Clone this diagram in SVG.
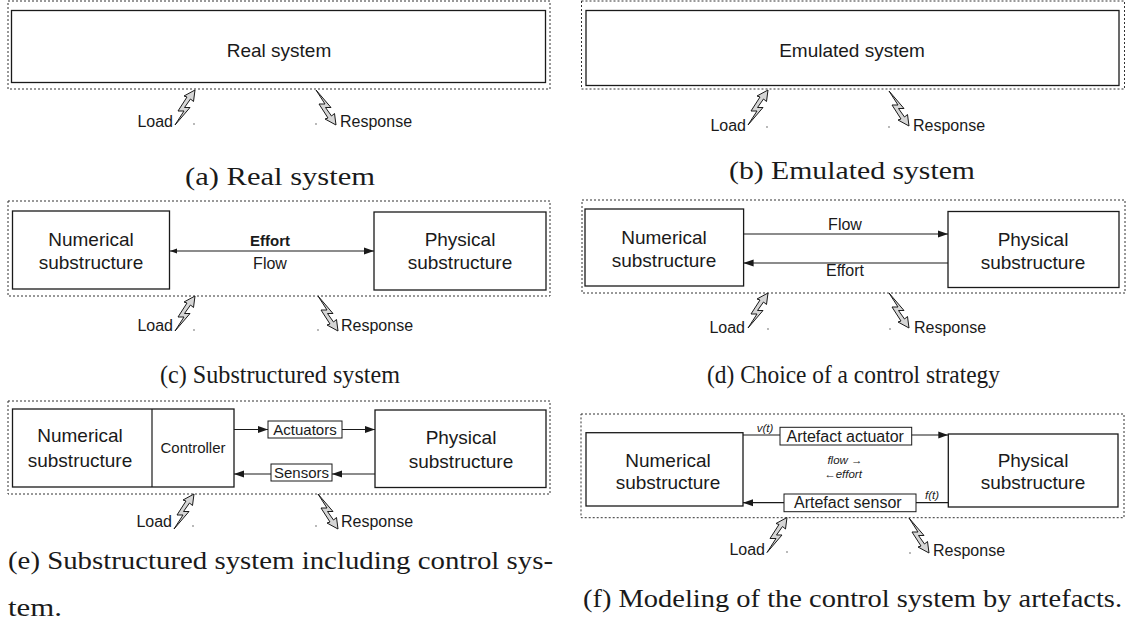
<svg xmlns="http://www.w3.org/2000/svg" xmlns:xlink="http://www.w3.org/1999/xlink" width="1126" height="633" viewBox="0 0 1126 633">
<style>
.frame{fill:none;stroke:#333;stroke-width:1;stroke-dasharray:2 2}
.box{fill:#fff;stroke:#1a1a1a;stroke-width:1.3}
.sbox{fill:#fff;stroke:#1a1a1a;stroke-width:1}
.t{font-family:"Liberation Sans",Arial,sans-serif;fill:#1a1a1a}
.big{font-size:19px;text-anchor:middle}
.mid{font-size:16px}
.sm{font-size:15px}
.it{font-size:11.5px;font-style:italic}
.c{text-anchor:middle}
.e{text-anchor:end}
.cap{font-family:"Liberation Serif","Times New Roman",serif;font-size:26px;fill:#1a1a1a}
.ln{stroke:#1a1a1a;stroke-width:1.2;fill:none}
.bolt{fill:#d6d6d6;stroke:#1a1a1a;stroke-width:1;stroke-linejoin:miter}
.dot{fill:#999}
</style>
<defs>
<marker id="ah" markerUnits="userSpaceOnUse" markerWidth="10" markerHeight="8" refX="10" refY="4" orient="auto-start-reverse"><path d="M0,0.5 L10,4 L0,7.5 z" fill="#1a1a1a"/></marker>
<marker id="ahs" markerUnits="userSpaceOnUse" markerWidth="7" markerHeight="6" refX="7" refY="3" orient="auto-start-reverse"><path d="M0,0.5 L7,3 L0,5.5 z" fill="#1a1a1a"/></marker>
<polygon id="bolt" class="bolt" points="0,35 9,21 3,21 12,7 9,6 20,0 18.5,11.5 15.5,9 9.5,17.5 15,17.5"/>
</defs>

<!-- (a) -->
<g id="panel-a">
<rect class="frame" x="8" y="1" width="542" height="88"/>
<g id="real-system"><rect class="box" x="11.5" y="10.5" width="534" height="72"/><text class="t big" x="279" y="57">Real system</text></g>
<g id="load-a"><use xlink:href="#bolt" x="175" y="90"/><circle class="dot" cx="194" cy="124" r="0.9"/><text class="t mid e" x="173" y="127">Load</text></g>
<g id="response-a"><use xlink:href="#bolt" transform="translate(316,125) scale(1,-1)"/><circle class="dot" cx="316" cy="124" r="0.9"/><text class="t mid" x="340" y="127">Response</text></g>
<text class="cap" x="185" y="185" textLength="190" lengthAdjust="spacingAndGlyphs">(a) Real system</text>
</g>

<!-- (b) -->
<g id="panel-b">
<rect class="frame" x="581.5" y="1" width="543" height="88"/>
<g id="emulated-system"><rect class="box" x="586" y="10.5" width="533" height="75"/><text class="t big" x="852" y="57">Emulated system</text></g>
<g id="load-b"><use xlink:href="#bolt" x="748" y="90"/><circle class="dot" cx="767" cy="127" r="0.9"/><text class="t mid e" x="746" y="131">Load</text></g>
<g id="response-b"><use xlink:href="#bolt" transform="translate(889,126) scale(1,-1)"/><circle class="dot" cx="889" cy="127" r="0.9"/><text class="t mid" x="913" y="131">Response</text></g>
<text class="cap" x="729" y="179" textLength="246" lengthAdjust="spacingAndGlyphs">(b) Emulated system</text>
</g>

<!-- (c) -->
<g id="panel-c">
<rect class="frame" x="8" y="201" width="542" height="95"/>
<g id="num-c"><rect class="box" x="12.5" y="211" width="157" height="78"/><text class="t big" x="91" y="246">Numerical</text><text class="t big" x="91" y="269">substructure</text></g>
<g id="phys-c"><rect class="box" x="374" y="212" width="172" height="78"/><text class="t big" x="460" y="246">Physical</text><text class="t big" x="460" y="269">substructure</text></g>
<g id="conn-c"><line class="ln" x1="170" y1="251" x2="374" y2="251" marker-start="url(#ahs)" marker-end="url(#ah)"/>
<text class="t c" x="270" y="246" style="font-size:15px;font-weight:bold">Effort</text><text class="t mid c" x="270" y="269">Flow</text></g>
<g id="load-c"><use xlink:href="#bolt" x="175" y="296"/><circle class="dot" cx="194" cy="330" r="0.9"/><text class="t mid e" x="173" y="331">Load</text></g>
<g id="response-c"><use xlink:href="#bolt" transform="translate(318,331) scale(1,-1)"/><circle class="dot" cx="318" cy="330" r="0.9"/><text class="t mid" x="341" y="331">Response</text></g>
<text class="cap" x="160" y="383" textLength="240" lengthAdjust="spacingAndGlyphs">(c) Substructured system</text>
</g>

<!-- (d) -->
<g id="panel-d">
<rect class="frame" x="582" y="200" width="543" height="93"/>
<g id="num-d"><rect class="box" x="585" y="209" width="158.6" height="77"/><text class="t big" x="664" y="244">Numerical</text><text class="t big" x="664" y="267">substructure</text></g>
<g id="phys-d"><rect class="box" x="948" y="211.5" width="171" height="76"/><text class="t big" x="1033" y="246">Physical</text><text class="t big" x="1033" y="269">substructure</text></g>
<g id="conn-d"><line class="ln" x1="743.6" y1="234" x2="948" y2="234" marker-end="url(#ah)"/><text class="t mid c" x="845" y="230">Flow</text>
<line class="ln" x1="948" y1="263" x2="743.6" y2="263" marker-end="url(#ah)"/><text class="t mid c" x="845" y="276">Effort</text></g>
<g id="load-d"><use xlink:href="#bolt" x="748" y="293"/><circle class="dot" cx="768" cy="329" r="0.9"/><text class="t mid e" x="745" y="333">Load</text></g>
<g id="response-d"><use xlink:href="#bolt" transform="translate(889,328) scale(1,-1)"/><circle class="dot" cx="890" cy="329" r="0.9"/><text class="t mid" x="914" y="333">Response</text></g>
<text class="cap" x="707" y="383" textLength="293" lengthAdjust="spacingAndGlyphs">(d) Choice of a control strategy</text>
</g>

<!-- (e) -->
<g id="panel-e">
<rect class="frame" x="8" y="401" width="542" height="93"/>
<g id="num-e"><rect class="box" x="12.5" y="409" width="221.5" height="78"/><line class="ln" x1="152" y1="409" x2="152" y2="487"/><text class="t big" x="80" y="442">Numerical</text><text class="t big" x="80" y="467">substructure</text></g>
<g id="controller-e"><text class="t sm c" x="193" y="453">Controller</text></g>
<g id="actuators-e"><rect class="sbox" x="268" y="421" width="74" height="17"/><text class="t sm c" x="305" y="434.5">Actuators</text></g>
<g id="sensors-e"><rect class="sbox" x="271" y="464" width="61" height="17"/><text class="t sm c" x="301.5" y="477.5">Sensors</text></g>
<g id="phys-e"><rect class="box" x="375" y="410" width="171" height="77.5"/><text class="t big" x="461" y="443.5">Physical</text><text class="t big" x="461" y="468">substructure</text></g>
<g id="conn-e">
<line class="ln" x1="234" y1="429.5" x2="268" y2="429.5" marker-end="url(#ah)"/>
<line class="ln" x1="342" y1="429.5" x2="375" y2="429.5" marker-end="url(#ah)"/>
<line class="ln" x1="375" y1="474" x2="332" y2="474" marker-end="url(#ah)"/>
<line class="ln" x1="271" y1="474" x2="234" y2="474" marker-end="url(#ah)"/>
</g>
<g id="load-e"><use xlink:href="#bolt" x="174" y="494"/><circle class="dot" cx="193" cy="526" r="0.9"/><text class="t mid e" x="172" y="527">Load</text></g>
<g id="response-e"><use xlink:href="#bolt" transform="translate(318,529) scale(1,-1)"/><circle class="dot" cx="316" cy="526" r="0.9"/><text class="t mid" x="341" y="527">Response</text></g>
<text class="cap" x="8" y="569" textLength="545" lengthAdjust="spacingAndGlyphs">(e) Substructured system including control sys-</text>
<text class="cap" x="8" y="616" textLength="54" lengthAdjust="spacingAndGlyphs">tem.</text>
</g>

<!-- (f) -->
<g id="panel-f">
<rect class="frame" x="581" y="414" width="543" height="103.7"/>
<g id="num-f"><rect class="box" x="586" y="432.7" width="157" height="73.3"/><text class="t big" x="668" y="466.5">Numerical</text><text class="t big" x="668" y="489">substructure</text></g>
<g id="phys-f"><rect class="box" x="948.3" y="434" width="169.7" height="73"/><text class="t big" x="1033" y="466.5">Physical</text><text class="t big" x="1033" y="489">substructure</text></g>
<g id="actuator-f"><rect class="sbox" x="780" y="427.3" width="131.7" height="17.7"/><text class="t mid" x="786.5" y="441.5">Artefact actuator</text></g>
<g id="sensor-f"><rect class="sbox" x="784" y="494" width="132" height="17.7"/><text class="t mid" x="794" y="508">Artefact sensor</text></g>
<g id="conn-f">
<line class="ln" x1="743" y1="435" x2="780" y2="435"/>
<text class="t it c" x="765" y="432">v(t)</text>
<line class="ln" x1="911.7" y1="435" x2="948.3" y2="435" marker-end="url(#ah)"/>
<line class="ln" x1="948.3" y1="502.7" x2="916" y2="502.7"/>
<text class="t it c" x="932" y="499">f(t)</text>
<line class="ln" x1="784" y1="502.7" x2="743" y2="502.7" marker-end="url(#ah)"/>
<text class="t it c" x="845" y="464">flow →</text>
<text class="t it c" x="843" y="478">←effort</text>
</g>
<g id="load-f"><use xlink:href="#bolt" x="767" y="517.5"/><circle class="dot" cx="787" cy="552" r="0.9"/><text class="t mid e" x="765" y="555">Load</text></g>
<g id="response-f"><use xlink:href="#bolt" transform="translate(909,553) scale(1,-1)"/><circle class="dot" cx="910" cy="553" r="0.9"/><text class="t mid" x="933" y="556">Response</text></g>
<text class="cap" x="583" y="607" textLength="539" lengthAdjust="spacingAndGlyphs">(f) Modeling of the control system by artefacts.</text>
</g>
</svg>
